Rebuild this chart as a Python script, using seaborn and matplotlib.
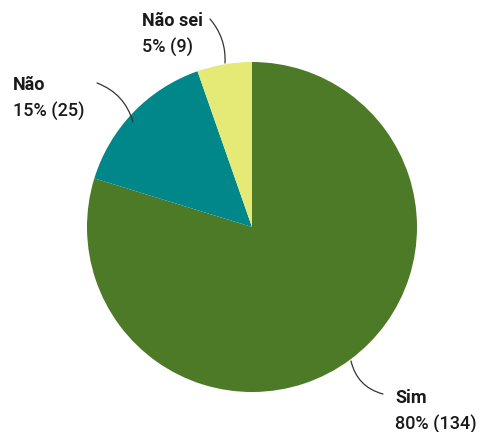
import matplotlib
matplotlib.use("Agg")
import matplotlib.pyplot as plt
import seaborn as sns

sns.set_theme(style="white")
plt.rcParams['font.family'] = ['Roboto', 'DejaVu Sans']

# Data
labels = ["Sim", "Não", "Não sei"]
counts = [134, 25, 9]
colors = ["#4d7a27", "#00878a", "#e5e976"]

total = sum(counts)
pcts = [round(c / total * 100) for c in counts]

W, H = 480, 432
cx, cy, r = 252, 227, 165

fig = plt.figure(figsize=(W / 100, H / 100), dpi=100)
ax = fig.add_axes([(cx - r) / W, (H - cy - r) / H, 2 * r / W, 2 * r / H])

ax.pie(counts, colors=colors, startangle=90, counterclock=False,
       wedgeprops=dict(linewidth=0))
ax.set_xlim(-1, 1)
ax.set_ylim(-1, 1)
ax.set_aspect("equal")
ax.axis("off")


def d(px, py):
    # pixel position -> data units of the pie axes
    return ((px - cx) / r, (cy - py) / r)


# label layout: (text left x, name y, line start (on pie), line end, rad)
layout = {
    "Sim": (395, 398, (351, 361), (383, 394), -0.3),
    "Não": (13, 85, (133, 122), (97, 83), -0.25),
    "Não sei": (142, 21, (225, 63), (210, 19), -0.2),
}

for lab, n, p in zip(labels, counts, pcts):
    tx, ty, start, end, rad = layout[lab]
    ax.annotate("", xy=d(*start), xytext=d(*end), annotation_clip=False,
                arrowprops=dict(arrowstyle="-", color="#333333", lw=0.9,
                                shrinkA=0, shrinkB=0,
                                connectionstyle=f"arc3,rad={rad}"))
    ax.text(*d(tx, ty), lab, fontsize=13, fontweight="bold",
            color="#1a1a1a", ha="left", va="center", clip_on=False)
    ax.text(*d(tx, ty + 26), f"{p}% ({n})", fontsize=13,
            fontweight="medium", color="#1a1a1a", ha="left", va="center",
            clip_on=False)

fig.savefig("out.png", dpi=100)
